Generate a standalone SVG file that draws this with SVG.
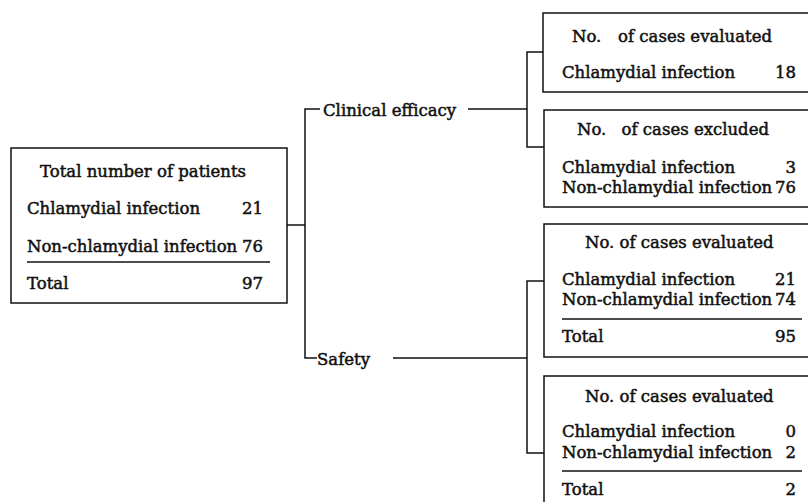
<svg xmlns="http://www.w3.org/2000/svg" width="808" height="502" viewBox="0 0 808 502">
<style>
text{font-family:"DejaVu Serif","Liberation Serif",serif;font-size:16.5px;fill:#111;stroke:#111;stroke-width:0.5}
.e{text-anchor:end}
.box{fill:none;stroke:#111;stroke-width:1.5}
.ln{fill:none;stroke:#111;stroke-width:1.5}
</style>
<rect width="808" height="502" fill="#fff"/>
<g id="connectors" class="ln">
<path d="M287,225H305M320,109H305V358H317M468,109H527M393,358H527"/>
<path d="M543,52H527V147H544"/>
<path d="M544,281H527V453H544"/>
</g>
<g id="total">
<rect class="box" x="11" y="148" width="276" height="155"/>
<text x="40" y="177">Total number of patients</text>
<text x="27" y="214">Chlamydial infection</text><text class="e" x="263" y="214">21</text>
<text x="27" y="252">Non-chlamydial infection</text><text class="e" x="263" y="252">76</text>
<path class="ln" d="M27,262H270"/>
<text x="27" y="289">Total</text><text class="e" x="263" y="289">97</text>
</g>
<g id="clinical"><text x="323" y="116">Clinical efficacy</text></g>
<g id="safety"><text x="317" y="365">Safety</text></g>
<g id="eff-evaluated">
<rect class="box" x="543" y="13" width="280" height="79"/>
<text x="572" y="42">No.</text><text class="e" x="772" y="42">of cases evaluated</text>
<text x="562" y="78">Chlamydial infection</text><text class="e" x="796" y="78">18</text>
</g>
<g id="eff-excluded">
<rect class="box" x="544" y="110" width="280" height="97"/>
<text x="577" y="135">No.</text><text class="e" x="769" y="135">of cases excluded</text>
<text x="562" y="173">Chlamydial infection</text><text class="e" x="796" y="173">3</text>
<text x="562" y="193">Non-chlamydial infection</text><text class="e" x="796" y="193">76</text>
</g>
<g id="safety-chlamydial">
<rect class="box" x="544" y="224" width="280" height="133"/>
<text x="585" y="248">No. of cases evaluated</text>
<text x="562" y="285">Chlamydial infection</text><text class="e" x="796" y="285">21</text>
<text x="562" y="305">Non-chlamydial infection</text><text class="e" x="796" y="305">74</text>
<path class="ln" d="M562,319H802"/>
<text x="562" y="342">Total</text><text class="e" x="796" y="342">95</text>
</g>
<g id="safety-other">
<rect class="box" x="544" y="376" width="280" height="140"/>
<text x="585" y="402">No. of cases evaluated</text>
<text x="562" y="437">Chlamydial infection</text><text class="e" x="796" y="437">0</text>
<text x="562" y="458">Non-chlamydial infection</text><text class="e" x="796" y="458">2</text>
<path class="ln" d="M562,471H802"/>
<text x="562" y="495">Total</text><text class="e" x="796" y="495">2</text>
</g>
</svg>
